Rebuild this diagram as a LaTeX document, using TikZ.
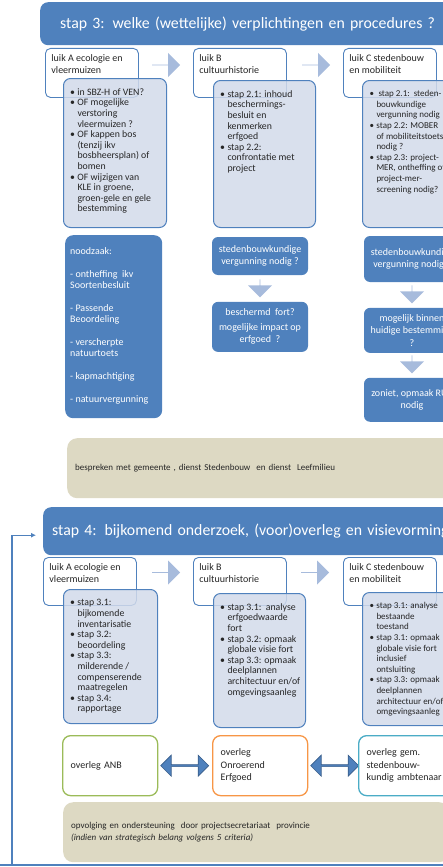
\documentclass[tikz,border=0pt]{standalone}
\usepackage{fontspec}
\setmainfont{Carlito}
\usetikzlibrary{positioning,shapes.arrows,arrows.meta}

\definecolor{kopblauw}{RGB}{79,129,189}
\definecolor{lichtblauw}{RGB}{210,218,234}
\definecolor{pijlblauw}{RGB}{167,187,220}
\definecolor{beige}{RGB}{221,217,195}
\definecolor{donkerblauw}{RGB}{56,93,138}
\definecolor{overleggroen}{RGB}{155,187,89}
\definecolor{overlegoranje}{RGB}{247,150,70}
\definecolor{overlegcyaan}{RGB}{75,172,198}
\definecolor{tekstgrijs}{RGB}{38,38,38}

\newcommand{\kader}[3]{\parbox[c][#2][t]{#1}{\raggedright #3}}
\newcommand{\punt}{\par\leftskip=11pt\noindent\llap{\textbullet\hspace{2.5pt}}}

\tikzstyle{KopBalk}=[rectangle, fill=kopblauw, rounded corners=8pt, anchor=north west, text=white, text width=420pt, align=left, font=\fontsize{15.8}{19}\selectfont]
\tikzstyle{LuikKader}=[rectangle, draw=kopblauw, fill=white, line width=0.9pt, rounded corners=5pt, anchor=north west, inner xsep=6pt, inner ysep=6pt, text=tekstgrijs, font=\fontsize{10}{12}\selectfont]
\tikzstyle{StappenLijst}=[rectangle, draw=kopblauw, fill=lichtblauw, fill opacity=0.85, text opacity=1, line width=1pt, rounded corners=7pt, anchor=north west, inner xsep=3pt, inner ysep=10pt, text=tekstgrijs, font=\fontsize{9.8}{10.6}\selectfont]
\tikzstyle{VraagBlok}=[rectangle, fill=kopblauw, rounded corners=6pt, text=white, align=center, minimum width=96pt, inner sep=2pt, font=\fontsize{10}{12.5}\selectfont]
\tikzstyle{NoodzaakBlok}=[rectangle, fill=kopblauw, rounded corners=8pt, anchor=north west, text=white, inner xsep=5pt, inner ysep=12pt, font=\fontsize{10}{11}\selectfont]
\tikzstyle{Blokpijl}=[single arrow, fill=pijlblauw, minimum height=28pt, minimum width=24pt, single arrow head extend=5pt, inner sep=0pt]
\tikzstyle{VraagPijl}=[single arrow, fill=pijlblauw, minimum height=18pt, minimum width=24pt, single arrow head extend=5pt, inner sep=0pt, shape border rotate=270]
\tikzstyle{DubbelPijl}=[double arrow, fill=kopblauw, draw=donkerblauw, line width=0.6pt, minimum height=48pt, minimum width=21pt, double arrow head extend=3pt, inner sep=0pt]
\tikzstyle{OverlegKader}=[rectangle, fill=white, line width=1.3pt, rounded corners=8pt, anchor=north west, minimum height=60pt, text width=79pt, inner xsep=8pt, align=left, text=tekstgrijs, font=\fontsize{10}{12.5}\selectfont]
\tikzstyle{BespreekBlok}=[rectangle, fill=beige, rounded corners=10pt, anchor=north west, minimum height=60pt, text width=370pt, inner xsep=8pt, align=left, text=tekstgrijs, font=\fontsize{9}{12}\selectfont]
\tikzstyle{Terugkoppeling}=[draw=kopblauw, line width=1.1pt]

\begin{document}
\begin{tikzpicture}[x=1pt,y=-1pt]
\useasboundingbox (0,0) rectangle (443,867);
\clip (0,0) rectangle (443,867);

%Stap 3
\node[KopBalk, minimum height=43pt, inner xsep=20pt] (stap3kop) at (40,2) {stap 3: welke (wettelijke) verplichtingen en procedures ?};

\node[LuikKader] (luikA3) at (45,48) {\kader{81pt}{37pt}{luik A ecologie en\\vleermuizen}};
\node[LuikKader] (luikB3) at (193,48) {\kader{81pt}{37pt}{luik B\\cultuurhistorie}};
\node[LuikKader] (luikC3) at (343,48) {\kader{81pt}{37pt}{luik C stedenbouw\\en mobiliteit}};

\node[Blokpijl] (pijlAB3) at (166,65) {};
\node[Blokpijl] (pijlBC3) at (316,65) {};

\node[StappenLijst] (lijstA3) at (63,78) {\kader{97pt}{129pt}{%
  \punt in SBZ-H of VEN?
  \punt OF mogelijke\\verstoring\\vleermuizen ?
  \punt OF kappen bos\\(tenzij ikv\\bosbheersplan) of\\bomen
  \punt OF wijzigen van\\KLE in groene,\\groen-gele en gele\\bestemming}};
\node[StappenLijst] (lijstB3) at (213,80) {\kader{96pt}{127pt}{%
  \punt stap 2.1: inhoud\\beschermings-\\besluit en\\kenmerken\\erfgoed
  \punt stap 2.2:\\confrontatie met\\project}};
\node[StappenLijst, font=\fontsize{9}{10.6}\selectfont] (lijstC3) at (362,80) {\kader{94pt}{127pt}{%
  \punt\ stap 2.1:\ \ steden-\\bouwkundige\\vergunning nodig
  \punt stap 2.2: MOBER\\of mobiliteitstoets\\nodig ?
  \punt stap 2.3: project-\\MER, ontheffing of\\project-mer-\\screening nodig?}};

\node[NoodzaakBlok] (noodzaak) at (65,235) {\kader{87pt}{159pt}{noodzaak:\\[12pt]- ontheffing\ \ ikv\\Soortenbesluit\\[12pt]- Passende\\Beoordeling\\[12pt]- verscherpte\\natuurtoets\\[12pt]- kapmachtiging\\[12pt]- natuurvergunning}};

\node[VraagBlok, minimum height=38pt] (vraagB1) at (260,256) {stedenbouwkundige\\vergunning nodig ?};
\node[VraagPijl] (pijlB1) [below=4pt of vraagB1, anchor=tail] {};
\node[VraagBlok, minimum height=50pt] (vraagB2) [below=4pt of pijlB1.tip] {beschermd\ \ fort?\\[2pt]mogelijke impact op\\erfgoed\ \ ?};

\node[VraagBlok, minimum height=46pt] (vraagC1) at (412,259) {stedenbouwkundige\\vergunning nodig ?};
\node[VraagPijl] (pijlC1) [below=3pt of vraagC1, anchor=tail] {};
\node[VraagBlok, minimum height=45pt] (vraagC2) [below=4pt of pijlC1.tip] {mogelijk binnen\\huidige bestemming\\?};
\node[VraagPijl] (pijlC2) [below=2pt of vraagC2, anchor=tail] {};
\node[VraagBlok, minimum height=44pt] (vraagC3) [below=4pt of pijlC2.tip] {zoniet, opmaak RUP\\nodig};

\node[BespreekBlok] (bespreken) at (67,438) {bespreken met gemeente , dienst Stedenbouw\ \ en dienst\ \ Leefmilieu};

%Stap 4
\node[KopBalk, minimum height=48pt, inner xsep=9pt] (stap4kop) at (43,507) {stap 4: bijkomend onderzoek, (voor)overleg en visievorming};

\node[LuikKader] (luikA4) at (43,557) {\kader{81pt}{36pt}{luik A ecologie en\\vleermuizen}};
\node[LuikKader] (luikB4) at (193,557) {\kader{81pt}{36pt}{luik B\\cultuurhistorie}};
\node[LuikKader] (luikC4) at (343,557) {\kader{81pt}{36pt}{luik C stedenbouw\\en mobiliteit}};

\node[Blokpijl] (pijlAB4) at (166,572.5) {};
\node[Blokpijl] (pijlBC4) at (315,572.5) {};

\node[StappenLijst] (lijstA4) at (63,589) {\kader{88pt}{114pt}{%
  \punt stap 3.1:\\bijkomende\\inventarisatie
  \punt stap 3.2:\\beoordeling
  \punt stap 3.3:\\milderende /\\compenserende\\maatregelen
  \punt stap 3.4:\\rapportage}};
\node[StappenLijst] (lijstB4) at (213,593) {\kader{86pt}{114pt}{%
  \punt stap 3.1:\ \ analyse\\erfgoedwaarde\\fort
  \punt stap 3.2: opmaak\\globale visie fort
  \punt stap 3.3: opmaak\\deelplannen\\architectuur en/of\\omgevingsaanleg}};
\node[StappenLijst, font=\fontsize{9}{10.6}\selectfont] (lijstC4) at (362,592) {\kader{94pt}{113pt}{%
  \punt stap 3.1: analyse\\bestaande\\toestand
  \punt stap 3.1: opmaak\\globale visie fort\\inclusief\\ontsluiting
  \punt stap 3.3: opmaak\\deelplannen\\architectuur en/of\\omgevingsaanleg}};

\node[OverlegKader, draw=overleggroen] (overlegANB) at (62,735) {overleg ANB};
\node[DubbelPijl] (pijlANB) [right=2pt of overlegANB] {};
\node[OverlegKader, draw=overlegoranje] (overlegOE) at (212,735) {overleg\\Onroerend\\Erfgoed};
\node[DubbelPijl] (pijlOE) [right=2pt of overlegOE] {};
\node[OverlegKader, draw=overlegcyaan] (overlegGem) at (358,735) {overleg gem.\\stedenbouw-\\kundig ambtenaar};

\node[BespreekBlok] (opvolging) at (63,802) {opvolging en ondersteuning\ \ door projectsecretariaat\ \ provincie\\\textit{(indien van strategisch belang volgens 5 criteria)}};

%Terugkoppeling
\coordinate (lusRechts) at (443,865);
\coordinate (lusLinks) at (0,865);
\coordinate (lusHoek) at (12,865);
\draw[Terugkoppeling] (lusRechts) -- (lusLinks);
\draw[Terugkoppeling, -{Latex[length=5pt,width=5pt]}, shorten >=7pt] (lusHoek) |- ([yshift=-4pt]stap4kop.west);

\end{tikzpicture}
\end{document}
